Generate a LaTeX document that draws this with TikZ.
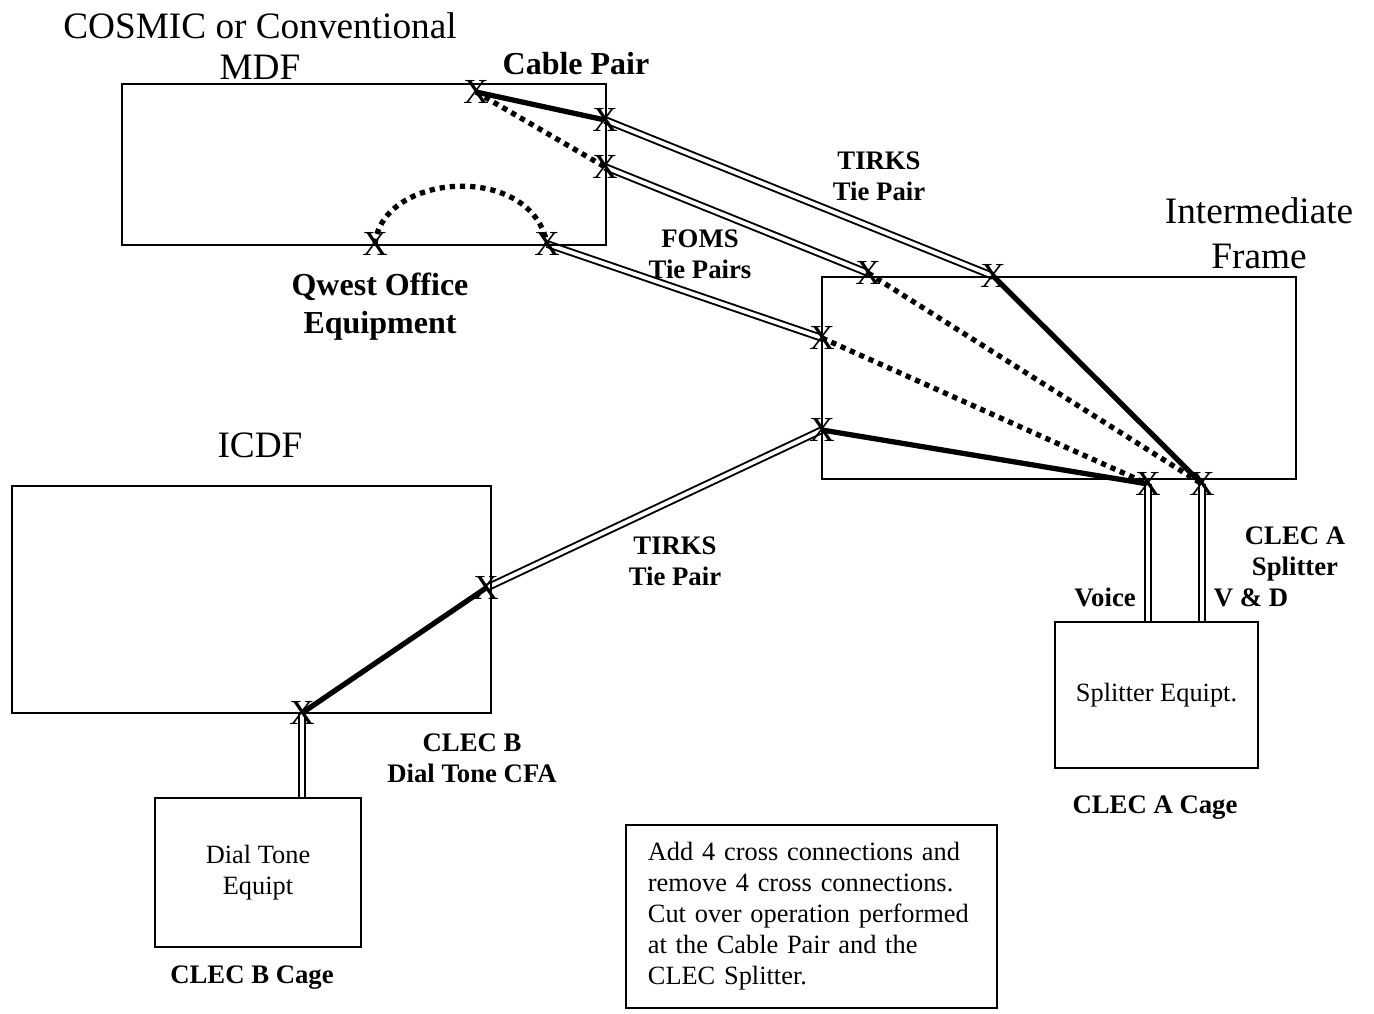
\documentclass[tikz,border=0pt]{standalone}
\usepackage{fontspec}
\setmainfont{Liberation Serif}
\usetikzlibrary{backgrounds}

\begin{document}
\begin{tikzpicture}[
    x=0.01cm,y=-0.01cm,
    frame/.style={draw,line width=0.55pt,inner sep=0pt},
    xm/.style={inner sep=0pt,font=\fontsize{10}{10}\selectfont},
    big/.style={align=center,font=\fontsize{10.6}{12.2}\selectfont},
    lbl/.style={align=center,font=\fontsize{7.6}{8.8}\selectfont\bfseries},
    blbl/.style={align=center,font=\fontsize{9.1}{10.8}\selectfont\bfseries},
    txt/.style={align=center,font=\fontsize{7.5}{8.8}\selectfont},
    xc/.style={line width=1.5pt},
    rm/.style={line width=1.5pt,dash pattern=on 1.5pt off 1.4pt},
    tie/.style={double,line width=0.55pt,double distance=1.1pt},
]
\useasboundingbox (0,0) rectangle (1374,1013);
% frames
\node[frame,minimum width=4.84cm,minimum height=1.61cm](mdf)at(364,164.5){};
\node[frame,minimum width=4.74cm,minimum height=2.02cm](ifr)at(1059,378){};
\node[frame,minimum width=4.79cm,minimum height=2.27cm](icdf)at(251.5,599.5){};
\node[frame,minimum width=2.03cm,minimum height=1.46cm,txt](splt)at(1156.5,695){Splitter Equipt.};
\node[frame,minimum width=2.06cm,minimum height=1.49cm,txt](dial)at(258,872.5){Dial Tone\\Equipt};
\node[frame,minimum width=3.71cm,minimum height=1.83cm,inner xsep=0.22cm,text width=3.27cm,align=left,font=\fontsize{7.5}{8.8}\selectfont](note)at(811.5,916.5){Add 4 cross connections and\\remove 4 cross connections.\\Cut over operation performed\\at the Cable Pair and the\\CLEC Splitter.};
% cross connect points
\node[xm](cp)at(476,92){X};
\node[xm](t1)at(605,120){X};
\node[xm](t2)at(605,167){X};
\node[xm](q1)at(375,244){X};
\node[xm](q2)at(547,244){X};
\node[xm](ia)at(868,273){X};
\node[xm](ib)at(993,276){X};
\node[xm](ic)at(822,338){X};
\node[xm](id)at(822,430){X};
\node[xm](s1)at(1148,484){X};
\node[xm](s2)at(1202,484){X};
\node[xm](ie)at(486,588){X};
\node[xm](ifx)at(302,713){X};
% connections
\begin{scope}[on background layer]
\draw[xc](cp.center)--(t1.center);
\draw[rm](cp.center)--(t2.center);
\draw[tie](t1.center)--(ib.center);
\draw[tie](t2.center)--(ia.center);
\draw[rm](q1.center)..controls(382,172)and(532,162)..(q2.center);
\draw[tie](q2.center)--(ic.center);
\draw[rm](ia.center)--(s2.center);
\draw[xc](ib.center)--(s2.center);
\draw[rm](ic.center)--(s1.center);
\draw[xc](id.center)--(s1.center);
\draw[tie](id.center)--(ie.center);
\draw[xc](ie.center)--(ifx.center);
\draw[tie](s1.center)--(s1.center|-splt.north);
\draw[tie](s2.center)--(s2.center|-splt.north);
\draw[tie](ifx.center)--(ifx.center|-dial.north);
\end{scope}
% labels
\node[big,font=\fontsize{10.6}{11.8}\selectfont](tmdf)at(260,46){COSMIC or Conventional\\MDF};
\node[blbl](tcp)at(576,64){Cable Pair};
\node[lbl](tt1)at(879,176){TIRKS\\Tie Pair};
\node[big,font=\fontsize{10.6}{12.8}\selectfont](tif)at(1259,233){Intermediate\\Frame};
\node[lbl](tfoms)at(700,254){FOMS\\Tie Pairs};
\node[blbl](tqw)at(380,307){Qwest Office\\Equipment};
\node[big](ticdf)at(260,445){ICDF};
\node[lbl](tt2)at(675,561){TIRKS\\Tie Pair};
\node[lbl](tsa)at(1295,554){CLEC A\\Splitter};
\node[lbl](tv)at(1105,597){Voice};
\node[lbl](tvd)at(1251,598){V \& D};
\node[lbl](tca)at(1155,808){CLEC A Cage};
\node[lbl](tcfa)at(472,758){CLEC B\\Dial Tone CFA};
\node[lbl](tcb)at(252,978){CLEC B Cage};
\end{tikzpicture}
\end{document}
